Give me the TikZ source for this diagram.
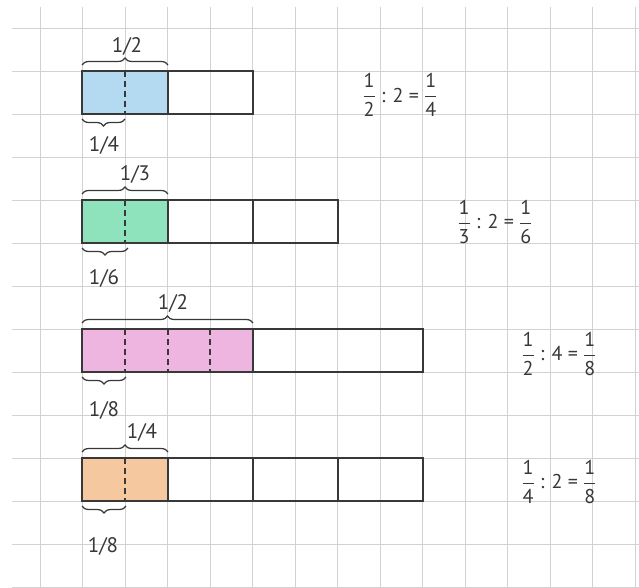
\documentclass[tikz,border=0pt]{standalone}
\usepackage{amsmath}
\usepackage{fontspec}
\setmainfont{PT Sans}
\usetikzlibrary{decorations.pathreplacing}
\definecolor{ink}{HTML}{383838}
\definecolor{gridc}{HTML}{D2D2D2}
\definecolor{cblue}{HTML}{B3DAF0}
\definecolor{cgreen}{HTML}{8EE3BC}
\definecolor{cpink}{HTML}{EDB5DF}
\definecolor{corange}{HTML}{F5C8A0}
\newcommand{\fr}[2]{\ensuremath{\dfrac{\text{#1}}{\text{#2}}}}
\tikzset{
  barline/.style={draw=ink, line width=1.6pt},
  partline/.style={draw=ink, line width=1.4pt},
  dashline/.style={draw=ink, line width=1.3pt, dash pattern=on 6pt off 4pt},
  topbrace/.style={draw=ink, line width=1.2pt, decorate, decoration={brace, amplitude=7pt}},
  botbrace/.style={draw=ink, line width=1.2pt, decorate, decoration={brace, mirror, amplitude=7pt}},
  frlabel/.style={font=\fontsize{21}{24}\selectfont, text=ink, inner sep=0pt},
  eqlabel/.style={font=\fontsize{20}{24}\selectfont, text=ink, inner sep=0pt},
}
\begin{document}
\begin{tikzpicture}[x=1pt, y=-1pt]
\fill[white] (0,0) rectangle (639,588);
\useasboundingbox (0,0) rectangle (639,588);
% grid
\foreach \k in {0,...,14} \draw[gridc, line width=0.6pt] (40+42.5*\k, 7) -- (40+42.5*\k, 588);
\foreach \k in {0,...,13} \draw[gridc, line width=0.6pt] (12, 28+43*\k) -- (639, 28+43*\k);

% bar 1: 1/2 : 2
\fill[cblue] (82,71) rectangle (168,114);
\draw[dashline] (125,71) -- (125,114);
\draw[partline] (168,71) -- (168,114);
\draw[barline] (82,71) rectangle (253,114);
\draw[topbrace] (82,65) -- (168,65);
\draw[botbrace] (82,119) -- (125,119);
\node[frlabel] (l1t) at (127,46) {1/2};
\node[frlabel] (l1b) at (104,145) {1/4};
\node[eqlabel] (e1) at (400,95) {\fr{1}{2} : 2 = \fr{1}{4}};

% bar 2: 1/3 : 2
\fill[cgreen] (82,200) rectangle (168,243);
\draw[dashline] (125,200) -- (125,243);
\draw[partline] (168,200) -- (168,243);
\draw[partline] (253,200) -- (253,243);
\draw[barline] (82,200) rectangle (338,243);
\draw[topbrace] (82,194) -- (168,194);
\draw[botbrace] (82,248) -- (128,248);
\node[frlabel] (l2t) at (135,174) {1/3};
\node[frlabel] (l2b) at (104,278) {1/6};
\node[eqlabel] (e2) at (495,222) {\fr{1}{3} : 2 = \fr{1}{6}};

% bar 3: 1/2 : 4
\fill[cpink] (82,329) rectangle (253,372);
\foreach \xx in {125,168,210} \draw[dashline] (\xx,329) -- (\xx,372);
\draw[partline] (253,329) -- (253,372);
\draw[barline] (82,329) rectangle (423,372);
\draw[topbrace] (82,323) -- (253,323);
\draw[botbrace] (82,377) -- (126,377);
\node[frlabel] (l3t) at (173,303) {1/2};
\node[frlabel] (l3b) at (104,410) {1/8};
\node[eqlabel] (e3) at (559,354) {\fr{1}{2} : 4 = \fr{1}{8}};

% bar 4: 1/4 : 2
\fill[corange] (82,458) rectangle (168,501);
\draw[dashline] (125,458) -- (125,501);
\foreach \xx in {168,253,338} \draw[partline] (\xx,458) -- (\xx,501);
\draw[barline] (82,458) rectangle (423,501);
\draw[topbrace] (82,452) -- (168,452);
\draw[botbrace] (82,506) -- (126,506);
\node[frlabel] (l4t) at (142,432) {1/4};
\node[frlabel] (l4b) at (103,546) {1/8};
\node[eqlabel] (e4) at (559,482) {\fr{1}{4} : 2 = \fr{1}{8}};
\end{tikzpicture}
\end{document}
